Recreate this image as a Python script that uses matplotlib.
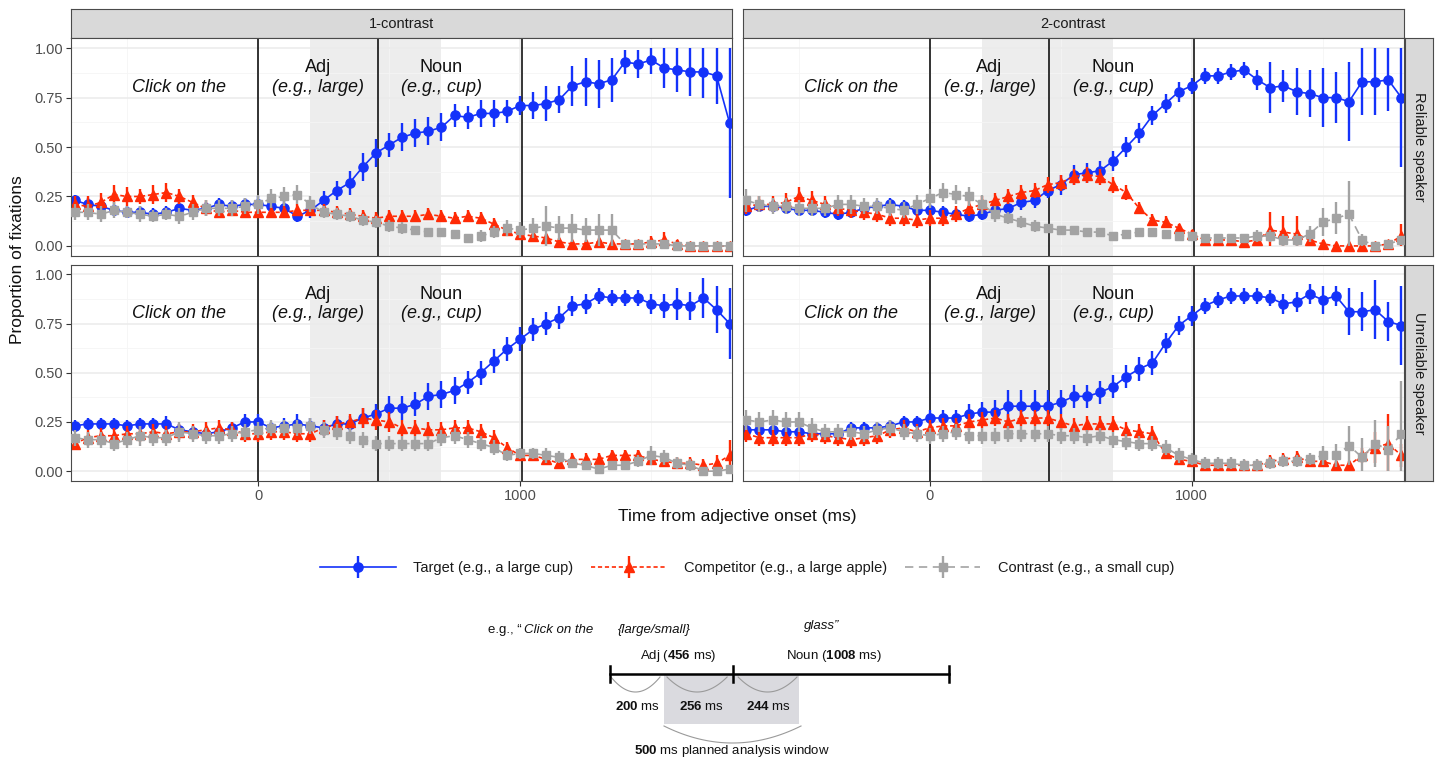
import numpy as np
import matplotlib
matplotlib.use("Agg")
import matplotlib.pyplot as plt
from matplotlib.legend_handler import HandlerErrorbar
from matplotlib.container import ErrorbarContainer

plt.rcParams['font.family'] = ['Liberation Sans', 'DejaVu Sans']
plt.rcParams['mathtext.fontset'] = 'custom'
plt.rcParams['mathtext.rm'] = 'Liberation Sans'
plt.rcParams['mathtext.bf'] = 'Liberation Sans:bold'
plt.rcParams['mathtext.it'] = 'Liberation Sans:italic'
plt.rcParams['lines.scale_dashes'] = False

# ---------------- data ----------------
TIME_MS = [-700, -650, -600, -550, -500, -450, -400, -350, -300, -250, -200, -150, -100, -50,
           0, 50, 100, 150, 200, 250, 300, 350, 400, 450, 500, 550, 600, 650, 700, 750, 800,
           850, 900, 950, 1000, 1050, 1100, 1150, 1200, 1250, 1300, 1350, 1400, 1450, 1500,
           1550, 1600, 1650, 1700, 1750, 1800]

COLUMNS = ["1-contrast", "2-contrast"]
ROWS = ["Reliable speaker", "Unreliable speaker"]
SERIES = ["Target (e.g., a large cup)", "Competitor (e.g., a large apple)", "Contrast (e.g., a small cup)"]

# 1-contrast, reliable
T1R = [.23, .21, .20, .18, .17, .17, .16, .17, .19, .18, .19, .21, .20, .21, .21, .20, .19, .15, .18, .23,
       .28, .32, .40, .47, .51, .55, .57, .58, .60, .66, .65, .67, .67, .68, .71, .71, .72, .74, .81, .83,
       .82, .84, .93, .92, .94, .90, .89, .88, .88, .86, .62]
T1R_E = [.03, .03, .03, .03, .03, .03, .03, .03, .03, .03, .03, .03, .03, .03, .04, .04, .04, .03, .04, .05,
         .05, .06, .07, .07, .06, .07, .07, .07, .07, .06, .06, .07, .07, .06, .05, .07, .09, .07, .10, .12,
         .12, .11, .06, .07, .07, .10, .11, .12, .13, .14, .38]
C1R = [.21, .20, .22, .26, .25, .25, .26, .27, .25, .22, .19, .17, .18, .17, .17, .17, .17, .18, .18, .18,
       .17, .16, .15, .14, .15, .15, .15, .16, .15, .14, .15, .14, .11, .08, .06, .05, .04, .02, .01, .01,
       .02, .01, .01, .01, .02, .03, .01, .00, .00, .00, .00]
C1R_E = [.04, .05, .05, .05, .05, .04, .05, .05, .04, .04, .04, .03, .03, .03, .03, .03, .03, .03, .03, .03,
         .03, .03, .03, .03, .03, .03, .03, .03, .03, .03, .03, .03, .03, .03, .02, .02, .02, .02, .01, .02,
         .02, .02, .02, .02, .03, .04, .02, .01, .01, .01, .01]
S1R = [.17, .17, .16, .18, .17, .16, .15, .16, .15, .17, .19, .19, .19, .20, .21, .24, .25, .26, .21, .17,
       .16, .15, .13, .12, .10, .09, .08, .07, .07, .06, .04, .05, .07, .09, .08, .09, .10, .09, .09, .08,
       .08, .08, .01, .01, .01, .01, .00, .00, .00, .00, .00]
S1R_E = [.04, .04, .04, .04, .03, .04, .03, .03, .04, .04, .04, .04, .04, .04, .05, .05, .05, .05, .04, .03,
         .03, .03, .03, .03, .03, .03, .02, .02, .02, .02, .02, .03, .03, .04, .04, .05, .10, .06, .07, .06,
         .08, .08, .01, .01, .01, .01, .01, .01, .01, .01, .01]

# 2-contrast, reliable
T2R = [.18, .20, .20, .19, .18, .18, .17, .16, .17, .19, .20, .21, .20, .18, .18, .17, .16, .15, .16, .18,
       .19, .22, .23, .28, .31, .36, .37, .38, .43, .50, .57, .66, .72, .78, .81, .86, .86, .88, .89, .84,
       .80, .81, .78, .77, .75, .75, .73, .83, .83, .84, .75]
T2R_E = [.03, .03, .03, .03, .03, .03, .03, .03, .03, .03, .03, .03, .03, .03, .03, .03, .03, .03, .03, .03,
         .03, .04, .04, .04, .05, .05, .05, .05, .05, .05, .05, .05, .05, .05, .04, .04, .04, .04, .04, .05,
         .13, .08, .12, .12, .15, .13, .20, .17, .17, .16, .35]
C2R = [.20, .21, .21, .22, .25, .23, .21, .19, .18, .17, .16, .14, .14, .13, .14, .14, .16, .19, .21, .23,
       .25, .27, .28, .31, .32, .35, .36, .35, .31, .27, .19, .13, .12, .09, .06, .03, .03, .03, .02, .03,
       .08, .07, .06, .03, .01, .00, .00, .00, .00, .01, .05]
C2R_E = [.04, .04, .04, .05, .05, .05, .04, .04, .04, .04, .04, .04, .04, .04, .04, .04, .04, .04, .04, .04,
         .04, .04, .04, .04, .04, .04, .04, .04, .04, .04, .03, .03, .03, .02, .02, .02, .02, .02, .02, .03,
         .09, .08, .09, .04, .02, .01, .01, .01, .01, .02, .06]
S2R = [.23, .21, .20, .20, .19, .19, .19, .21, .21, .20, .20, .19, .18, .21, .24, .27, .26, .25, .21, .16,
       .14, .12, .10, .09, .08, .08, .07, .07, .05, .06, .07, .07, .06, .05, .05, .04, .04, .04, .04, .05,
       .05, .03, .03, .06, .12, .14, .16, .03, .00, .01, .03]
S2R_E = [.06, .04, .04, .04, .04, .04, .04, .05, .05, .04, .04, .04, .04, .05, .05, .05, .05, .05, .05, .04,
         .03, .03, .03, .02, .02, .02, .02, .02, .02, .02, .02, .02, .02, .02, .02, .02, .02, .02, .02, .03,
         .03, .03, .03, .04, .07, .08, .17, .03, .01, .01, .02]

# 1-contrast, unreliable
T1U = [.23, .24, .24, .24, .23, .24, .24, .24, .21, .20, .19, .20, .22, .25, .25, .22, .23, .24, .23, .22,
       .24, .24, .27, .29, .32, .32, .34, .38, .39, .41, .45, .50, .56, .62, .67, .72, .75, .78, .84, .85,
       .89, .88, .88, .88, .85, .84, .85, .84, .88, .82, .75]
T1U_E = [.03, .03, .03, .03, .03, .03, .03, .04, .03, .03, .03, .03, .03, .04, .04, .03, .04, .05, .04, .04,
         .04, .04, .05, .05, .06, .06, .06, .07, .07, .07, .06, .06, .06, .06, .06, .06, .06, .06, .05, .05,
         .04, .04, .04, .04, .05, .06, .08, .07, .10, .12, .18]
C1U = [.14, .17, .18, .18, .19, .19, .20, .19, .20, .20, .21, .22, .21, .19, .19, .20, .20, .19, .19, .22,
       .24, .25, .27, .26, .25, .22, .22, .21, .21, .22, .22, .20, .17, .12, .08, .08, .06, .04, .06, .06,
       .06, .08, .08, .08, .06, .05, .04, .04, .03, .04, .08]
C1U_E = [.03, .04, .04, .04, .04, .04, .04, .04, .04, .04, .04, .04, .04, .04, .04, .04, .04, .04, .04, .04,
         .04, .04, .05, .05, .05, .04, .04, .04, .04, .04, .04, .04, .04, .03, .03, .03, .03, .03, .03, .03,
         .03, .03, .03, .03, .03, .03, .03, .03, .03, .04, .08]
S1U = [.17, .16, .16, .14, .16, .18, .17, .17, .20, .19, .18, .18, .19, .20, .21, .22, .22, .22, .23, .21,
       .20, .18, .16, .14, .14, .14, .14, .14, .17, .18, .16, .14, .12, .08, .09, .09, .08, .07, .04, .03,
       .01, .03, .03, .05, .08, .07, .04, .03, .00, .00, .01]
S1U_E = [.04, .04, .04, .04, .04, .05, .04, .04, .05, .04, .04, .04, .04, .04, .04, .04, .04, .04, .04, .04,
         .04, .04, .04, .04, .04, .04, .04, .04, .04, .04, .04, .04, .04, .03, .03, .03, .04, .03, .02, .02,
         .02, .02, .02, .03, .05, .04, .03, .03, .01, .01, .02]

# 2-contrast, unreliable
T2U = [.21, .21, .21, .20, .20, .19, .19, .19, .22, .22, .22, .23, .25, .25, .27, .27, .27, .29, .30, .30,
       .33, .33, .33, .33, .35, .38, .38, .40, .43, .48, .52, .55, .65, .74, .79, .84, .87, .89, .89, .89,
       .88, .85, .86, .90, .87, .89, .81, .81, .82, .76, .74]
T2U_E = [.03, .03, .03, .03, .03, .03, .03, .03, .03, .03, .03, .03, .03, .03, .04, .04, .04, .05, .05, .06,
         .08, .08, .08, .08, .06, .06, .06, .06, .06, .06, .06, .06, .05, .05, .05, .04, .04, .04, .04, .04,
         .04, .05, .05, .05, .07, .05, .12, .10, .15, .10, .20]
C2U = [.19, .17, .17, .17, .17, .19, .18, .17, .16, .17, .18, .21, .22, .20, .22, .23, .23, .25, .26, .27,
       .25, .27, .27, .27, .25, .23, .24, .24, .24, .21, .20, .19, .09, .06, .05, .03, .03, .03, .03, .03,
       .05, .06, .07, .05, .05, .03, .03, .08, .12, .14, .08]
C2U_E = [.04, .04, .04, .04, .04, .04, .04, .04, .04, .04, .04, .04, .04, .04, .04, .04, .04, .04, .04, .04,
         .04, .04, .04, .04, .04, .04, .04, .04, .04, .04, .04, .04, .03, .03, .02, .02, .02, .02, .02, .02,
         .03, .03, .03, .03, .03, .02, .02, .04, .08, .15, .06]
S2U = [.26, .25, .26, .25, .25, .22, .20, .20, .20, .19, .21, .22, .20, .19, .18, .19, .20, .18, .18, .18,
       .19, .19, .19, .19, .18, .18, .17, .18, .16, .15, .14, .14, .12, .08, .06, .04, .04, .04, .03, .03,
       .04, .05, .05, .06, .08, .08, .13, .07, .14, .11, .19]
S2U_E = [.05, .05, .05, .05, .05, .05, .04, .04, .04, .04, .04, .04, .04, .04, .04, .04, .04, .04, .04, .04,
         .04, .04, .04, .04, .04, .04, .04, .04, .04, .04, .04, .04, .04, .04, .03, .03, .03, .03, .03, .03,
         .03, .03, .03, .03, .05, .06, .10, .10, .12, .12, .27]

PANEL_DATA = {
    ("1-contrast", "Reliable speaker"): [(T1R, T1R_E), (C1R, C1R_E), (S1R, S1R_E)],
    ("2-contrast", "Reliable speaker"): [(T2R, T2R_E), (C2R, C2R_E), (S2R, S2R_E)],
    ("1-contrast", "Unreliable speaker"): [(T1U, T1U_E), (C1U, C1U_E), (S1U, S1U_E)],
    ("2-contrast", "Unreliable speaker"): [(T2U, T2U_E), (C2U, C2U_E), (S2U, S2U_E)],
}

EVENT_LINES_MS = [0, 456, 1008]
SHADE_WINDOWS_MS = [(200, 456), (456, 700)]
ANNOTATIONS = [("Click on the", -300, 0.80, 'italic'),
               ("Adj", 228, 0.90, 'normal'), ("(e.g., large)", 228, 0.80, 'italic'),
               ("Noun", 700, 0.90, 'normal'), ("(e.g., cup)", 700, 0.80, 'italic')]

# timeline diagram values
TL_PRE_MS = 200
TL_ADJ_MS = 456
TL_NOUN_MS = 1008
TL_WINDOW_MS = 500

# ---------------- style ----------------
COLORS = ["#1432FA", "#FF2A05", "#A3A3A3"]
MARKERS = ["o", "^", "s"]
MSIZES = [6.6, 7.4, 6.0]
LSTYLES = ["-", (0, (3, 2)), (0, (6, 4))]

W, H = 1439, 762
fig = plt.figure(figsize=(W / 100, H / 100), dpi=100)
fig.patch.set_facecolor("white")


def px_axes(x0, y0, x1, y1, **kw):
    return fig.add_axes([x0 / W, 1 - y1 / H, (x1 - x0) / W, (y1 - y0) / H], **kw)


COL_X = [(71, 732.3), (742.7, 1404)]
ROW_Y = [(38.3, 255.8), (264.5, 481)]
BORDER = "#4A4A4A"

legend_handles = None
for ci, col in enumerate(COLUMNS):
    # top strip
    sax = px_axes(COL_X[ci][0], 9.3, COL_X[ci][1], 38.3)
    sax.set_facecolor("#D9D9D9")
    sax.set_xticks([]); sax.set_yticks([])
    for sp in sax.spines.values():
        sp.set_color(BORDER); sp.set_linewidth(0.8)
    sax.text(0.5, 0.5, col, ha="center", va="center", fontsize=10.5, color="#1A1A1A",
             transform=sax.transAxes)
    for ri, row in enumerate(ROWS):
        ax = px_axes(COL_X[ci][0], ROW_Y[ri][0], COL_X[ci][1], ROW_Y[ri][1])
        ax.set_xlim(-714, 1810)
        ax.set_ylim(-0.05, 1.05)
        ax.set_axisbelow(True)
        ax.set_xticks([0, 1000])
        ax.set_xticks([-500, 500, 1500], minor=True)
        ax.set_yticks([0, 0.25, 0.5, 0.75, 1.0])
        ax.set_yticks([0.125, 0.375, 0.625, 0.875], minor=True)
        ax.set_yticklabels(["0.00", "0.25", "0.50", "0.75", "1.00"])
        ax.grid(which="major", color="#EBEBEB", lw=1.1)
        ax.grid(which="minor", color="#F5F5F5", lw=0.6)
        ax.tick_params(which="minor", length=0)
        ax.tick_params(which="major", length=3.6, width=0.8, color="#333333",
                       labelsize=10.5, labelcolor="#4D4D4D", pad=2)
        if ri == 0:
            ax.tick_params(axis="x", bottom=False, labelbottom=False)
        if ci == 1:
            ax.tick_params(axis="y", left=False, labelleft=False)
        for sp in ax.spines.values():
            sp.set_color(BORDER); sp.set_linewidth(0.8)
        for a, b in SHADE_WINDOWS_MS:
            ax.axvspan(a, b, color="#EDEDED", lw=0, zorder=0.2)
        for xv in EVENT_LINES_MS:
            ax.axvline(xv, color="black", lw=1.1, zorder=1)
        for txt, xx, yy, st in ANNOTATIONS:
            ax.text(xx, yy, txt, ha="center", va="center", fontsize=13, style=st,
                    color="#111111", zorder=5)
        handles = []
        for si, (vals, errs) in enumerate(PANEL_DATA[(col, row)]):
            y = np.array(vals)
            e = np.array(errs)
            lo = y - np.clip(y - e, 0, 1)
            hi = np.clip(y + e, 0, 1) - y
            h = ax.errorbar(TIME_MS, y, yerr=[lo, hi], color=COLORS[si], ecolor=COLORS[si],
                            marker=MARKERS[si], ms=MSIZES[si], ls=LSTYLES[si], lw=1.2,
                            elinewidth=1.7, capsize=0, zorder=2 + si * 0.3,
                            label=SERIES[si])
            handles.append(h)
        if legend_handles is None:
            legend_handles = handles

# right strips
for ri, row in enumerate(ROWS):
    sax = px_axes(1405, ROW_Y[ri][0], 1433, ROW_Y[ri][1])
    sax.set_facecolor("#D9D9D9")
    sax.set_xticks([]); sax.set_yticks([])
    for sp in sax.spines.values():
        sp.set_color(BORDER); sp.set_linewidth(0.8)
    sax.text(0.5, 0.5, row, ha="center", va="center", rotation=-90, fontsize=10.5,
             color="#1A1A1A", transform=sax.transAxes)

fig.text(18 / W, 1 - 260 / H, "Proportion of fixations", rotation=90, ha="center",
         va="center", fontsize=12.5, color="#111111")
fig.text(737.5 / W, 1 - 517 / H, "Time from adjective onset (ms)", ha="center",
         va="center", fontsize=12.5, color="#111111")

fig.legend(legend_handles, SERIES, loc="center", bbox_to_anchor=(747 / W, 1 - 568 / H),
           ncol=3, frameon=False, fontsize=10.5, handlelength=5.2, handletextpad=1.2,
           columnspacing=1.2, labelcolor="#1A1A1A",
           handler_map={ErrorbarContainer: HandlerErrorbar(xerr_size=0.75)})

# ---------------- timeline diagram ----------------
tax = fig.add_axes([0, 0, 1, 1])
tax.set_xlim(0, W)
tax.set_ylim(H, 0)
tax.axis("off")

TL_X0 = 610
TL_SCALE = 0.27      # px per ms
TL_END_PX = 949
TL_Y = 674


def tl(ms):
    return TL_X0 + TL_SCALE * ms


win0, win1 = TL_PRE_MS, TL_PRE_MS + TL_WINDOW_MS
tax.add_patch(plt.Rectangle((tl(win0), TL_Y), tl(win1) - tl(win0), 50, facecolor="#DADADF",
                            edgecolor="none", zorder=1))
tax.plot([tl(0), TL_END_PX], [TL_Y, TL_Y], color="black", lw=1.8, zorder=3)
for xx in [tl(0), tl(TL_ADJ_MS), TL_END_PX]:
    tax.plot([xx, xx], [TL_Y - 8, TL_Y + 8], color="black", lw=1.8, zorder=3)


def arc(x0, x1, y0, depth):
    u = np.linspace(0, 1, 60)
    xs = x0 + (x1 - x0) * u
    ys = y0 + depth * 4 * u * (1 - u)
    tax.plot(xs, ys, color="#9A9A9A", lw=0.8, zorder=2)


arc(tl(0) + 1, tl(TL_PRE_MS) - 4, TL_Y + 3, 15)
arc(tl(TL_PRE_MS) + 3, tl(TL_ADJ_MS) - 6, TL_Y + 3, 15)
arc(tl(TL_ADJ_MS) + 5, tl(win1) - 2, TL_Y + 3, 15)
arc(tl(win0), tl(win1) + 2, TL_Y + 52, 17)

fs = 9.5
tax.text(488, 630, "e.g., \u201c", ha="left", va="center", fontsize=fs, color="#111111")
tax.text(524, 630, "Click on the", ha="left", va="center", fontsize=fs, style="italic", color="#111111")
tax.text(618, 630, "{large/small}", ha="left", va="center", fontsize=fs, style="italic", color="#111111")
tax.text(804, 626, "glass\u201d", ha="left", va="center", fontsize=fs, style="italic", color="#111111")
tax.text(678, 656, r"Adj ($\mathbf{%d}$ ms)" % TL_ADJ_MS, ha="center", va="center", fontsize=fs, color="#111111")
tax.text(834, 656, r"Noun ($\mathbf{%d}$ ms)" % TL_NOUN_MS, ha="center", va="center", fontsize=fs, color="#111111")
tax.text((tl(0) + tl(TL_PRE_MS)) / 2, 707, r"$\mathbf{%d}$ ms" % TL_PRE_MS, ha="center", va="center",
         fontsize=fs, color="#111111")
tax.text((tl(TL_PRE_MS) + tl(TL_ADJ_MS)) / 2 + 3, 707, r"$\mathbf{%d}$ ms" % (TL_ADJ_MS - TL_PRE_MS),
         ha="center", va="center", fontsize=fs, color="#111111")
tax.text((tl(TL_ADJ_MS) + tl(win1)) / 2 + 2, 707, r"$\mathbf{%d}$ ms" % (win1 - TL_ADJ_MS),
         ha="center", va="center", fontsize=fs, color="#111111")
tax.text(732, 751, r"$\mathbf{%d}$ ms planned analysis window" % TL_WINDOW_MS, ha="center",
         va="center", fontsize=fs, color="#111111")

fig.savefig("out.png", dpi=100)
